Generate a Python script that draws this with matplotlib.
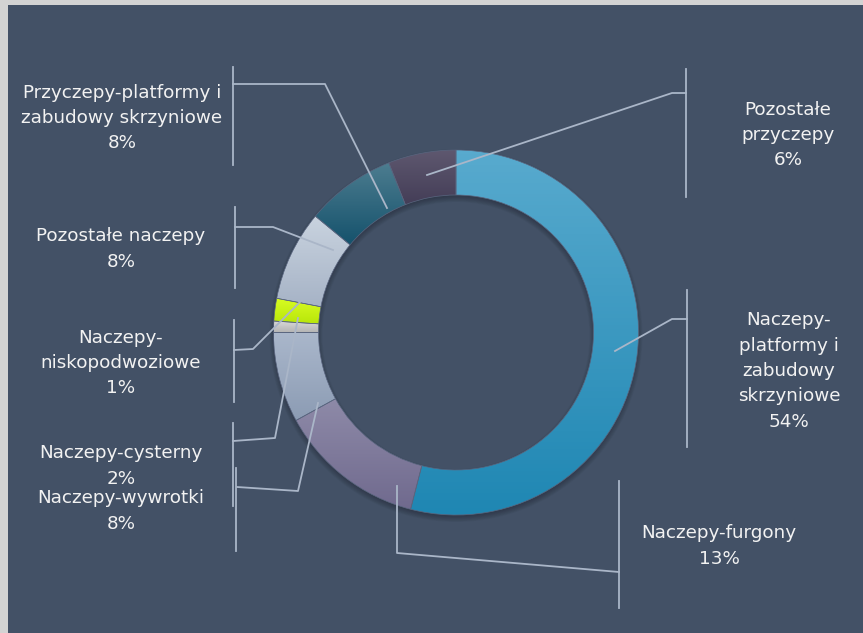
import numpy as np
import matplotlib.pyplot as plt
from matplotlib.colors import LinearSegmentedColormap
from matplotlib.patches import Rectangle

W, H = 863, 633

labels = ['Naczepy-\nplatformy i\nzabudowy\nskrzyniowe', 'Naczepy-furgony', 'Naczepy-wywrotki',
          'Naczepy-\nniskopodwoziowe', 'Naczepy-cysterny', 'Pozostałe naczepy',
          'Przyczepy-platformy i\nzabudowy skrzyniowe', 'Pozostałe\nprzyczepy']
values = [54, 13, 8, 1, 2, 8, 8, 6]

# gradient colours (top, bottom) for each slice
grad = [('#58aace', '#1f87b3'), ('#8e8aa8', '#706a8e'), ('#aab7cb', '#8c9cb4'),
        ('#dadada', '#b5b5b5'), ('#d8fc22', '#b8e60a'), ('#c9d3df', '#a6b3c6'),
        ('#4d7d90', '#15526c'), ('#5e586f', '#443d57')]

# label layout in pixels: text centre, bracket x, bracket y-range, leader path
text_pos = [(789, 371), (719, 546), (121, 511), (121, 363), (121, 466), (121, 249), (122, 118), (788, 135)]
brackets = [(687, 290, 447), (619, 481, 608), (236, 468, 551), (234, 320, 402),
            (233, 423, 506), (235, 207, 288), (233, 67, 165), (686, 69, 197)]
leaders = [[(687, 319), (672, 319), (615, 351)],
           [(619, 572), (397, 553), (397, 486)],
           [(237, 487), (298, 491), (318, 403)],
           [(234, 350), (253, 349), (302, 300)],
           [(233, 441), (275, 438), (298, 318)],
           [(235, 227), (273, 227), (333, 250)],
           [(233, 84), (325, 84), (387, 208)],
           [(686, 93), (672, 93), (427, 175)]]

bg = '#435166'
line_c = '#aab6c8'
txt_c = '#f2f2f2'

fig = plt.figure(figsize=(W / 100, H / 100), dpi=100)
fig.patch.set_facecolor('#d3d3d3')
ax = fig.add_axes([0, 0, 1, 1])
ax.set_xlim(0, W)
ax.set_ylim(0, H)
ax.axis('off')
ax.add_patch(Rectangle((8, 0), W - 8, H - 5, facecolor=bg, edgecolor='none', zorder=0))

cx, cy = 456, H - 332.5
R, ring = 182.5, 45

# soft shadow
for k in range(8):
    ax.pie([1], center=(cx, cy - 3), radius=R + 4 - k * 0.8,
           colors=['black'], wedgeprops=dict(width=ring + 8 - k * 1.6, alpha=0.03, linewidth=0))

wedges, _ = ax.pie(values, center=(cx, cy), radius=R, startangle=90, counterclock=False,
                   wedgeprops=dict(width=ring, linewidth=0.5, edgecolor='#5a6680'))

for w, (c1, c2) in zip(wedges, grad):
    ext = w.get_path().get_extents()
    cmap = LinearSegmentedColormap.from_list('g', [c2, c1])
    im = ax.imshow(np.linspace(0, 1, 100).reshape(-1, 1), cmap=cmap, origin='lower',
                   extent=(ext.x0, ext.x1, ext.y0, ext.y1), aspect='auto', zorder=2)
    im.set_clip_path(w)
    w.set_facecolor('none')
    w.set_zorder(3)

ax.set_xlim(0, W)
ax.set_ylim(0, H)

for lab, v, (tx, ty), (bx, b0, b1), path in zip(labels, values, text_pos, brackets, leaders):
    ax.text(tx, H - ty, f'{lab}\n{v}%', ha='center', va='center', color=txt_c,
            fontsize=13.2, family='DejaVu Sans', linespacing=1.52, zorder=5)
    ax.plot([bx, bx], [H - b0, H - b1], color=line_c, lw=1.3, zorder=4)
    xs, ys = zip(*path)
    ax.plot(xs, [H - y for y in ys], color=line_c, lw=1.3, zorder=4)

fig.savefig('out.png', dpi=100, facecolor=fig.get_facecolor())
